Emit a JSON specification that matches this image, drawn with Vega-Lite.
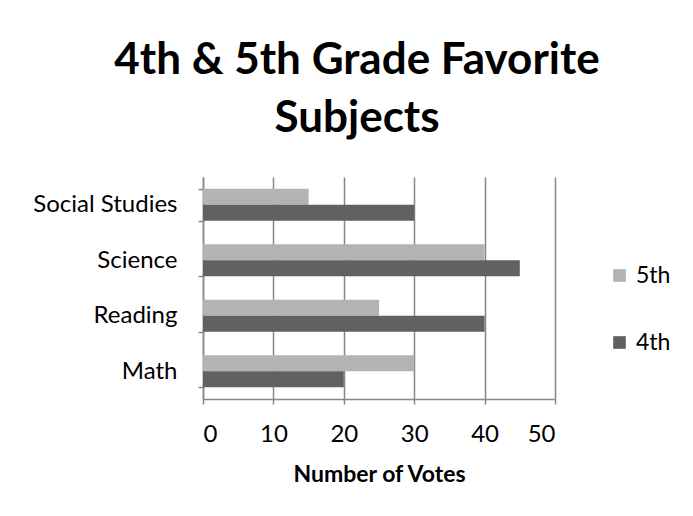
{
  "$schema": "https://vega.github.io/schema/vega-lite/v6.json",
  "autosize": {"type": "none"},
  "padding": {"left": 203, "top": 177, "right": 138, "bottom": 117},
  "width": 352,
  "height": 222,
  "background": "white",
  "title": {
    "text": ["4th & 5th Grade Favorite", "Subjects"],
    "font": "Lato",
    "fontSize": 44,
    "fontWeight": "bold",
    "color": "#000000",
    "anchor": "middle",
    "dx": -22,
    "lineHeight": 58,
    "offset": 24
  },
  "data": {
    "values": [
      {"subject": "Social Studies", "grade": "5th", "votes": 15},
      {"subject": "Social Studies", "grade": "4th", "votes": 30},
      {"subject": "Science\u00a0\u00a0", "grade": "5th", "votes": 40},
      {"subject": "Science\u00a0\u00a0", "grade": "4th", "votes": 45},
      {"subject": "Reading", "grade": "5th", "votes": 25},
      {"subject": "Reading", "grade": "4th", "votes": 40},
      {"subject": "Math", "grade": "5th", "votes": 30},
      {"subject": "Math", "grade": "4th", "votes": 20}
    ]
  },
  "mark": {"type": "bar"},
  "encoding": {
    "y": {
      "field": "subject",
      "type": "nominal",
      "sort": ["Social Studies", "Science\u00a0\u00a0", "Reading", "Math"],
      "scale": {"paddingInner": 0.42, "paddingOuter": 0.21},
      "axis": {
        "title": null,
        "labelFont": "Lato",
        "labelFontSize": 24,
        "labelColor": "#000000",
        "labelPadding": 21,
        "tickBand": "extent",
        "tickSize": 5,
        "tickColor": "#868686",
        "tickWidth": 1.5,
        "domainColor": "#868686",
        "domainWidth": 1.5,
        "grid": false
      }
    },
    "yOffset": {"field": "grade", "type": "nominal", "sort": ["5th", "4th"]},
    "x": {
      "field": "votes",
      "type": "quantitative",
      "scale": {"domain": [0, 50], "nice": false},
      "axis": {
        "title": "Number of Votes",
        "titleFont": "Lato",
        "titleFontSize": 23,
        "titleFontWeight": "bold",
        "titleColor": "#000000",
        "titlePadding": 17,
        "labelFont": "Lato",
        "labelFontSize": 24,
        "labelColor": "#000000",
        "labelPadding": 18,
        "values": [0, 10, 20, 30, 40, 50],
        "tickSize": 5,
        "tickColor": "#868686",
        "tickWidth": 1.5,
        "domainColor": "#868686",
        "domainWidth": 1.5,
        "grid": true,
        "gridColor": "#868686",
        "gridWidth": 1.5
      }
    },
    "color": {
      "field": "grade",
      "type": "nominal",
      "scale": {"domain": ["5th", "4th"], "range": ["#b3b3b3", "#616161"]},
      "legend": {
        "title": null,
        "orient": "none",
        "legendX": 405,
        "legendY": 87,
        "symbolType": "square",
        "symbolSize": 160,
        "symbolStrokeWidth": 0,
        "labelFont": "Lato",
        "labelFontSize": 23,
        "labelColor": "#000000",
        "labelOffset": 5,
        "rowPadding": 43
      }
    }
  },
  "config": {"view": {"stroke": null}}
}
